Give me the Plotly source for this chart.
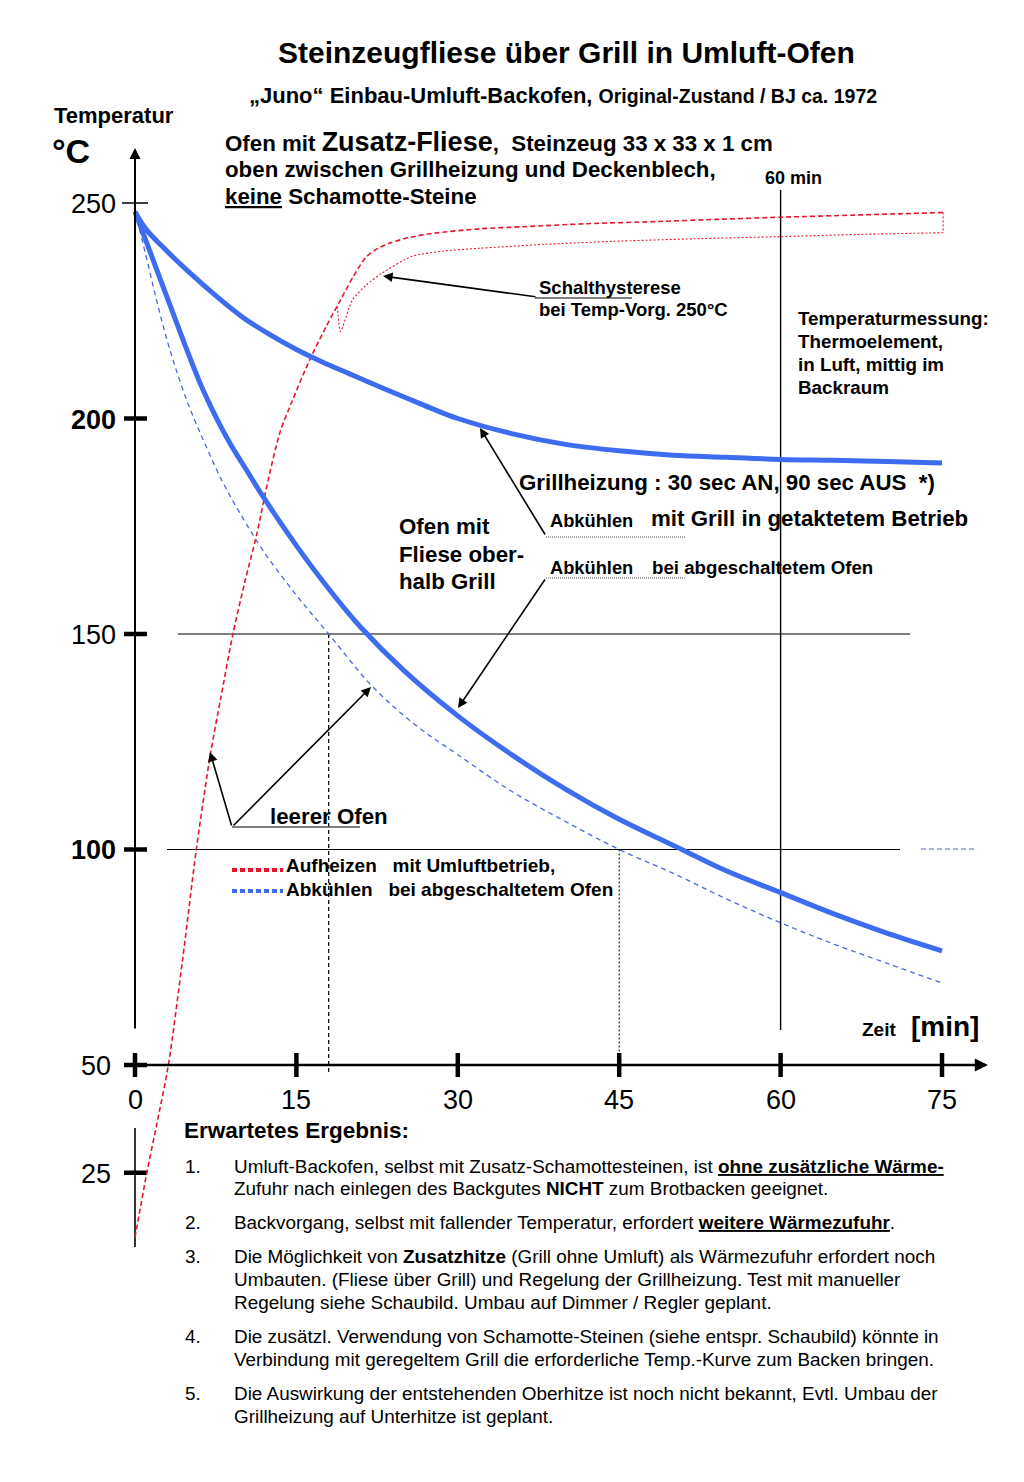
import plotly.graph_objects as go

# ---------------- data ----------------
X_TICKS = [0, 15, 30, 45, 60, 75]
Y_TICKS = [250, 200, 150, 100, 50, 25]
Y_TICKS_BOLD = [200, 100]

# Ofen mit Fliese oberhalb Grill: Abkühlen mit Grill in getaktetem Betrieb
grill_t = [0, 1, 2.5, 5, 7.5, 10, 12.5, 15, 17.5, 20, 22.5, 25, 27.5, 30, 35, 40, 45,
           50, 55, 60, 65, 70, 75]
grill_T = [248, 244, 240, 234, 228.5, 223.5, 219.5, 216, 213, 210.3, 207.6, 205, 202.4,
           200, 196.5, 194, 192.5, 191.5, 191, 190.5, 190.3, 190, 189.7]

# Ofen mit Fliese oberhalb Grill: Abkühlen bei abgeschaltetem Ofen
tile_t = [0, 1.5, 3, 4.5, 6, 7, 8, 9, 10, 12, 15, 18, 21, 25, 30, 35, 40, 45, 50, 55,
          60, 65, 70, 75]
tile_T = [248, 238, 228, 218, 208.5, 203, 198, 193.5, 189.5, 181.5, 170.5, 160.5, 151.5,
          141.5, 131, 122, 114, 107, 101, 95, 90, 85, 80.5, 76.5]

# leerer Ofen: Abkühlen bei abgeschaltetem Ofen
empty_cool_t = [0, 1, 2, 3, 4, 5, 6, 8, 10, 12, 15, 18, 22, 26, 30, 35, 40, 45, 50, 55,
                60, 65, 70, 75]
empty_cool_T = [248, 238, 227.5, 218, 210, 203, 197, 186, 177, 169, 159, 150, 138, 129,
                122, 113.5, 106.5, 100, 94.5, 88.5, 83, 78, 73.5, 69]

# leerer Ofen: Aufheizen mit Umluftbetrieb
empty_heat_t = [0, 1.1, 2.0, 3.1, 4.4, 5.7, 7.0, 8.0, 9.1, 10.2, 11.3, 12.4, 13.5, 14.6,
                15.6, 16.5, 17.8, 19.1, 20.3, 21.5, 22.6, 23.7, 25.5, 27.8, 32, 36.1, 42,
                48.5, 54, 60, 67, 75.1]
empty_heat_T = [10, 25, 36, 50, 74, 100, 122, 135.5, 150, 162, 173, 186, 197, 204, 210,
                215, 221.5, 227.5, 233, 237.5, 239.5, 240.7, 242, 243, 244, 244.5, 245.2,
                245.7, 246.2, 246.7, 247.2, 247.8]

# Schalthysterese bei Temp-Vorgabe 250 °C
hyst_t = [18.8, 19.1, 20.2, 21.5, 23.0, 25.7, 28.5, 32, 38, 44.4, 52, 60, 67, 75.1]
hyst_T = [226, 220.2, 227.5, 231, 233.8, 237.6, 238.8, 239.5, 240.4, 241.1, 241.7,
          242.2, 242.7, 243.1]

# ---------------- page geometry (pixel helpers) ----------------
W, H = 1024, 1482
PX0, PXS = 135, 10.76          # x pixel of 0 min, pixels per minute
PY250, PYS = 203, 4.31         # y pixel of 250 °C, pixels per degree


def xd(px):
    return (px - PX0) / PXS


def yd(py):
    return 250 - (py - PY250) / PYS


def xp(px):
    return px / W


def yp(py):
    return 1 - py / H


RED = "#e8142c"
BLUE = "#3d6cf0"
BLUE_D = "#4a68e0"
FONT = "Liberation Sans, Arial, sans-serif"

fig = go.Figure()

# ---------------- curves ----------------
fig.add_trace(go.Scatter(x=empty_heat_t, y=empty_heat_T, mode="lines",
                         line=dict(color=RED, width=1.6, dash="5px,3px", shape="spline",
                                   smoothing=0.8)))
fig.add_trace(go.Scatter(x=hyst_t, y=hyst_T, mode="lines",
                         line=dict(color=RED, width=1.1, dash="2px,2px", shape="spline",
                                   smoothing=0.6)))
# closing line between the two red curves at the end
fig.add_trace(go.Scatter(x=[empty_heat_t[-1], hyst_t[-1]], y=[empty_heat_T[-1], hyst_T[-1]],
                         mode="lines", line=dict(color=RED, width=1.1, dash="2px,2px")))
fig.add_trace(go.Scatter(x=empty_cool_t, y=empty_cool_T, mode="lines",
                         line=dict(color=BLUE_D, width=1.3, dash="5px,4px", shape="spline",
                                   smoothing=1.0)))
fig.add_trace(go.Scatter(x=tile_t, y=tile_T, mode="lines",
                         line=dict(color=BLUE, width=5, shape="spline", smoothing=1.0)))
fig.add_trace(go.Scatter(x=grill_t, y=grill_T, mode="lines",
                         line=dict(color=BLUE, width=5, shape="spline", smoothing=1.0)))

shapes = []
annos = []


def dline(x0, y0, x1, y1, color="black", width=1.2, dash="solid"):
    shapes.append(dict(type="line", xref="x", yref="y", x0=x0, y0=y0, x1=x1, y1=y1,
                       line=dict(color=color, width=width, dash=dash), layer="below"))


def pline(x0, y0, x1, y1, color="black", width=1.2, dash="solid"):
    shapes.append(dict(type="line", xref="paper", yref="paper", x0=xp(x0), y0=yp(y0),
                       x1=xp(x1), y1=yp(y1), line=dict(color=color, width=width, dash=dash),
                       layer="above"))


def arrow(tx, ty, hx, hy, width=1.6, size=1.2):
    annos.append(dict(x=xd(hx), y=yd(hy), ax=xd(tx), ay=yd(ty), xref="x", yref="y",
                      axref="x", ayref="y", text="", showarrow=True, arrowhead=2,
                      arrowsize=size, arrowwidth=width, arrowcolor="black", standoff=0))


def text(px, py, s, size=18, anchor="left", bold=True):
    if bold:
        s = "<b>" + s + "</b>"
    annos.append(dict(x=xp(px), y=yp(py), xref="paper", yref="paper", text=s,
                      showarrow=False, xanchor=anchor, yanchor="middle",
                      font=dict(family=FONT, size=size, color="black")))


# ---------------- axes ----------------
# y axis (upper part with arrow)
arrow(PX0, 1030, PX0, 148, width=2, size=1.1)
# lower segment below the break
dline(0, yd(1128), 0, yd(1247), width=1.6)
# x axis with arrow
annos.append(dict(x=xd(988), y=50, ax=xd(141), ay=50, xref="x", yref="y", axref="x",
                  ayref="y", text="", showarrow=True, arrowhead=2, arrowsize=1.1,
                  arrowwidth=2.4, arrowcolor="black", standoff=0))

for v in Y_TICKS:
    if v == 250:
        dline(xd(122), v, xd(148), v, width=1.5)
    else:
        dline(xd(124), v, xd(147), v, width=4.5)
    lab = str(v)
    if v in Y_TICKS_BOLD:
        lab = "<b>" + lab + "</b>"
    rx = 118 if v >= 100 else 113
    annos.append(dict(x=xp(rx), y=yp(PY250 + (250 - v) * PYS + 1), xref="paper",
                      yref="paper", text=lab, showarrow=False, xanchor="right",
                      yanchor="middle", font=dict(family=FONT, size=27, color="black")))
# the "+" at the origin
dline(0, yd(1053), 0, yd(1077), width=4.5)

for t in X_TICKS:
    if t > 0:
        dline(t, yd(1053), t, yd(1077), width=4.5)
    annos.append(dict(x=t, y=yd(1100), xref="x", yref="y", text=str(t), showarrow=False,
                      xanchor="center", yanchor="middle",
                      font=dict(family=FONT, size=27, color="black")))

# reference lines
dline(xd(178), 150, xd(910), 150, width=1.2)
dline(xd(167), 100, xd(900), 100, width=1.2)
dline(60, yd(190), 60, yd(1030), width=1.4)
dline(18, 150, 18, yd(1075), width=1.2, dash="4px,3px")
dline(45, 100, 45, yd(1075), width=1.0, dash="2px,2px")
pline(921, 849, 976, 849, color=BLUE_D, width=1.2, dash="5px,3px")

# ---------------- annotation arrows & underlines ----------------
arrow(537, 297, 383, 276)
pline(535, 298, 632, 298, color="#555555", width=1.5)
arrow(546, 536, 480, 428)
pline(546, 537, 686, 537, color="#444444", width=1, dash="1px,1px")
arrow(546, 578, 458, 708)
pline(546, 578, 686, 578, color="#444444", width=1, dash="1px,1px")
arrow(232, 827, 210, 752)
arrow(232, 827, 371, 687)
pline(232, 827, 360, 827, color="#555555", width=1.5)

# legend samples
pline(232, 870, 283, 870, color=RED, width=4, dash="5px,3px")
pline(232, 891, 283, 891, color=BLUE, width=4, dash="5px,3px")

# ---------------- texts ----------------
text(566, 53, "Steinzeugfliese über Grill in Umluft-Ofen", size=30, anchor="center")
text(247, 96, "„Juno“ Einbau-Umluft-Backofen, "
     "<span style='font-size:19.5px'>Original-Zustand / BJ ca. 1972</span>", size=22)
text(52, 116, "Temperatur", size=22)
text(50, 151, "°C", size=34)
text(223, 142, "Ofen mit <span style='font-size:27px'>Zusatz-Fliese</span>,\u00a0 Steinzeug 33 x 33 x 1 cm",
     size=22.3)
text(223, 169, "oben zwischen Grillheizung und Deckenblech,", size=22.3)
text(223, 197, "<u>keine</u> Schamotte-Steine", size=22.3)
text(763, 178, "60 min", size=18)
text(537, 287, "Schalthysterese", size=18.5)
text(537, 309, "bei Temp-Vorg. 250°C", size=18.5)
for i, s in enumerate(["Temperaturmessung:", "Thermoelement,", "in Luft, mittig im",
                       "Backraum"]):
    text(796, 318 + 23 * i, s, size=18.8)
text(517, 482, "Grillheizung : 30 sec AN, 90 sec AUS \u00a0*)", size=22.3)
text(548, 520, "Abkühlen", size=18.3)
text(649, 518, "mit Grill in getaktetem Betrieb", size=22.3)
text(548, 567, "Abkühlen", size=18.3)
text(650, 567, "bei abgeschaltetem Ofen", size=18.7)
text(397, 526, "Ofen mit", size=22.3)
text(397, 554, "Fliese ober-", size=22.3)
text(397, 581, "halb Grill", size=22.3)
text(268, 816, "leerer Ofen", size=22.3)
text(284, 865, "Aufheizen \u00a0 mit Umluftbetrieb,", size=19)
text(284, 889, "Abkühlen \u00a0 bei abgeschaltetem Ofen", size=19)
text(860, 1029, "Zeit", size=19)
text(909, 1026, "[min]", size=28)
text(182, 1130, "Erwartetes Ergebnis:", size=22.5)

items = [
    ("1.", 1166, "Umluft-Backofen, selbst mit Zusatz-Schamottesteinen, ist <b><u>ohne zusätzliche Wärme-</u></b>"),
    ("", 1188, "Zufuhr nach einlegen des Backgutes <b>NICHT</b> zum Brotbacken geeignet."),
    ("2.", 1222, "Backvorgang, selbst mit fallender Temperatur, erfordert <b><u>weitere Wärmezufuhr</u></b>."),
    ("3.", 1256, "Die Möglichkeit von <b>Zusatzhitze</b> (Grill ohne Umluft) als Wärmezufuhr erfordert noch"),
    ("", 1279, "Umbauten. (Fliese über Grill) und Regelung der Grillheizung. Test mit manueller"),
    ("", 1302, "Regelung siehe Schaubild. Umbau auf Dimmer / Regler geplant."),
    ("4.", 1336, "Die zusätzl. Verwendung von Schamotte-Steinen (siehe entspr. Schaubild) könnte in"),
    ("", 1359, "Verbindung mit geregeltem Grill die erforderliche Temp.-Kurve zum Backen bringen."),
    ("5.", 1393, "Die Auswirkung der entstehenden Oberhitze ist noch nicht bekannt, Evtl. Umbau der"),
    ("", 1416, "Grillheizung auf Unterhitze ist geplant."),
]
for num, py, s in items:
    if num:
        text(183, py, num, size=18.9, bold=False)
    text(232, py, s, size=18.9, bold=False)

fig.update_layout(
    width=W, height=H,
    margin=dict(l=0, r=0, t=0, b=0),
    paper_bgcolor="white", plot_bgcolor="white",
    showlegend=False,
    xaxis=dict(range=[xd(0), xd(W)], visible=False, fixedrange=True),
    yaxis=dict(range=[yd(H), yd(0)], visible=False, fixedrange=True),
    shapes=shapes, annotations=annos,
    font=dict(family=FONT),
)

fig.write_html("out.html", post_script="document.body.style.margin='0';",
               config={"displayModeBar": False})
